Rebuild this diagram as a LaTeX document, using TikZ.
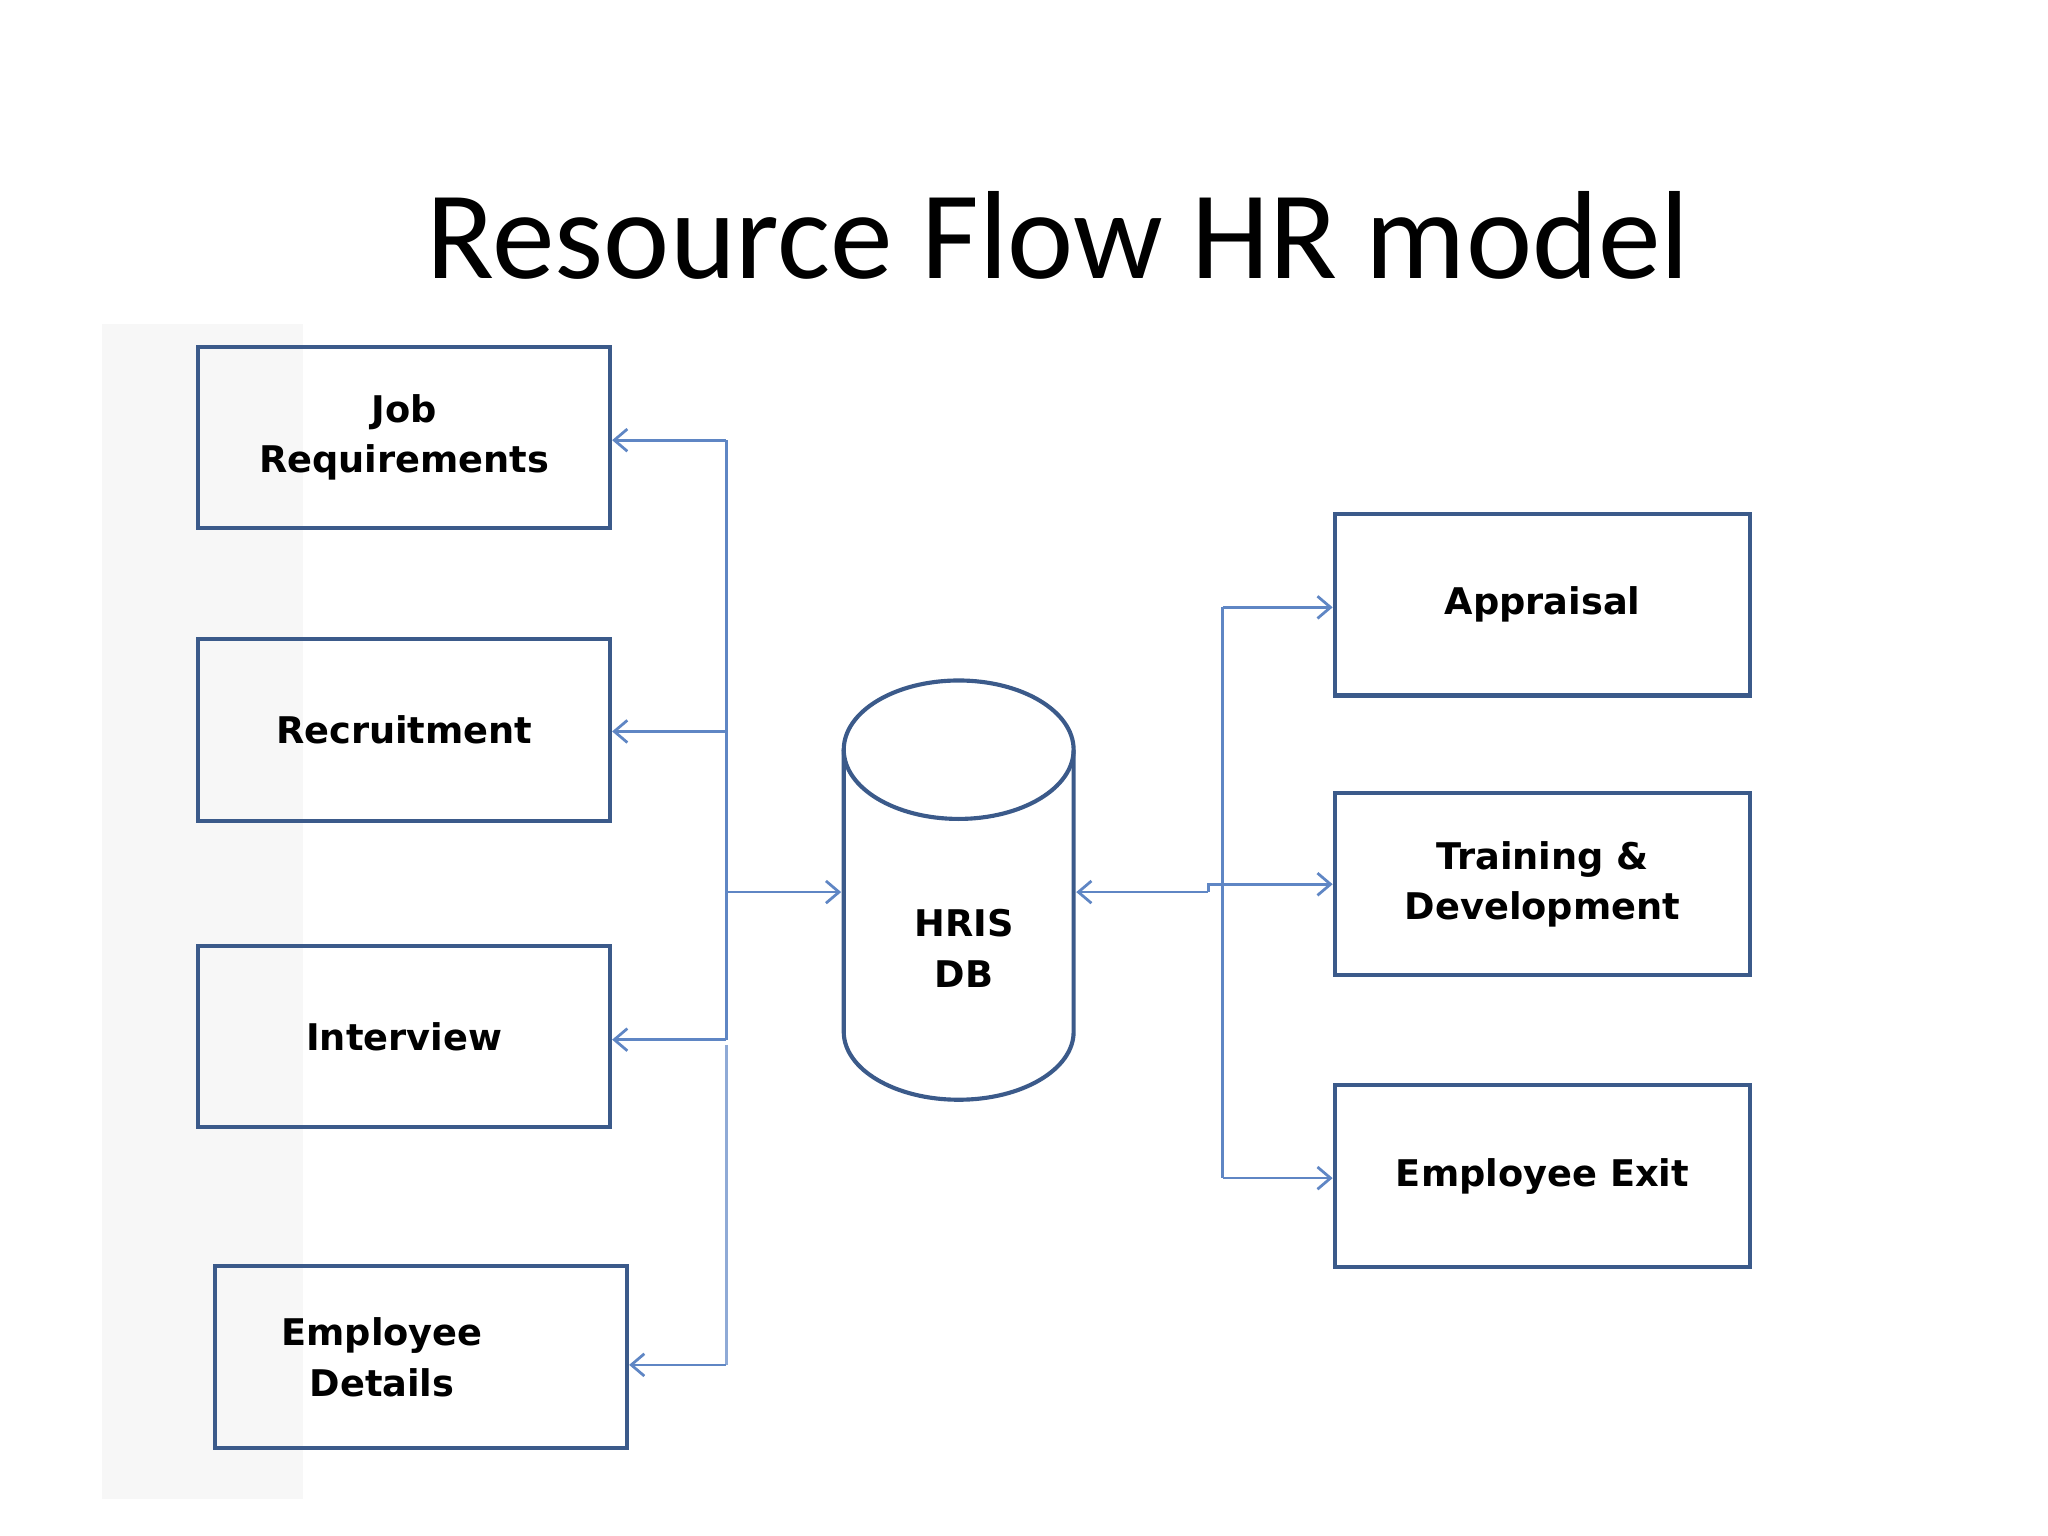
\documentclass[tikz,border=0pt]{standalone}
\usepackage{fontspec}
\setmainfont{DejaVu Sans}
\newfontfamily\titlefont{Carlito}
\usetikzlibrary{arrows.meta}
\definecolor{boxblue}{HTML}{3B5A8A}
\definecolor{linkblue}{HTML}{5F86C4}
\begin{document}
\begin{tikzpicture}[x=0.01cm,y=-0.01cm,
  box/.style={draw=boxblue,line width=0.9pt,minimum width=3.15cm,minimum height=1.39cm,align=center,font=\bfseries\fontsize{8}{11}\selectfont,inner sep=0pt},
  link/.style={draw=linkblue,line width=0.6pt},
  tip/.style={-{Straight Barb[length=1mm,width=1.7mm]}}]
\useasboundingbox (0,0) rectangle (1568,1176);
\fill[black!3] (78,248) rectangle (232,1148);
\node[font=\titlefont\fontsize{27.3}{32}\selectfont] (title) at (810,180) {Resource Flow HR model};
\node[box] (job) at (309.5,335) {Job\\Requirements};
\node[box] (rec) at (309.5,559) {Recruitment};
\node[box] (int) at (309.5,793.5) {Interview};
\node[box,text width=2.6cm] (emp) at (322.5,1039) {\hspace*{-0.6cm}Employee\\\hspace*{-0.6cm}Details};
\node[box,minimum width=3.18cm] (app) at (1181,463) {Appraisal};
\node[box,minimum width=3.18cm] (tra) at (1181,677) {Training \&\\Development};
\node[box,minimum width=3.18cm] (exi) at (1181,900.5) {Employee Exit};
% cylinder
\draw[boxblue,line width=0.9pt,fill=white] (646,574) -- (646,790) arc[start angle=180,end angle=360,x radius=88,y radius=-52] -- (822,574);
\draw[boxblue,line width=0.9pt] (734,574) ellipse[x radius=88,y radius=53];
\node[minimum width=1.76cm,minimum height=3.2cm,inner sep=0pt,font=\bfseries\fontsize{8}{11}\selectfont,align=center] (db) at (738,726) {HRIS\\DB};
\coordinate (dbw) at (644,683);
\coordinate (dbe) at (824,683);
\coordinate (lb) at (556,683);
% left bus
\draw[link] (556,337) -- (556,796);
\draw[link,draw=linkblue!70] (556,800) -- (556,1045);
\draw[link,tip] (556,337) -- (job.east|-0,337);
\draw[link,tip] (556,560) -- (rec.east|-0,560);
\draw[link,tip] (556,796) -- (int.east|-0,796);
\draw[link,tip] (556,1045) -- (emp.east|-0,1045);
\draw[link,tip] (lb) -- (dbw);
% right bus
\draw[link] (936,465) -- (936,902);
\draw[link,tip] (925,683) -- (dbe);
\draw[link] (925,683) -- (925,677) -- (936,677);
\draw[link,tip] (936,465) -- (app.west|-0,465);
\draw[link,tip] (936,677) -- (tra.west|-0,677);
\draw[link,tip] (936,902) -- (exi.west|-0,902);
\end{tikzpicture}
\end{document}
